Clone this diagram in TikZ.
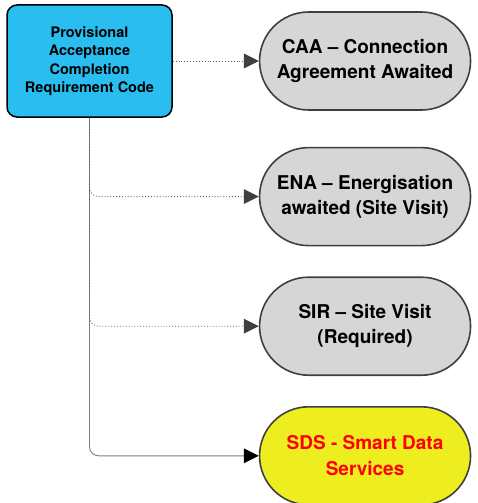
\documentclass[tikz,border=0pt]{standalone}
\usepackage{fontspec}
\setmainfont{Liberation Sans}
\newfontfamily\labelfont{TeX Gyre Heros}[BoldFont={* Bold}, Ligatures=TeX]
\usetikzlibrary{shapes.misc, positioning}
\usetikzlibrary{arrows.meta}
\definecolor{codeblue}{HTML}{29BDF0}
\definecolor{waitgray}{HTML}{D6D6D6}
\definecolor{edgegray}{HTML}{3F3F3F}
\definecolor{sdsyellow}{HTML}{EDED1F}
\tikzstyle{codebox} = [rectangle, rounded corners=10pt, minimum width=165pt, minimum height=112pt, text centered, draw=black, line width=1.5pt, fill=codeblue, align=center, font=\labelfont\bfseries\fontsize{14.5}{18.5}\selectfont]
\tikzstyle{waitbox} = [rounded rectangle, minimum width=215pt, minimum height=98pt, inner xsep=2pt, text centered, draw=edgegray, line width=1.6pt, fill=waitgray, align=center, font=\labelfont\bfseries\fontsize{19}{25.5}\selectfont]
\tikzstyle{arrow} = [draw=gray!75!black, dotted, line width=0.9pt, rounded corners=9pt, -{Triangle[length=15pt, width=15pt, fill=edgegray, color=edgegray, line width=0pt]}]

\begin{document}
\begin{tikzpicture}
    \useasboundingbox (0pt,0pt) rectangle (477pt,-503pt);
    \node (code) [codebox] at (89.5pt,-61pt) {Provisional\\Acceptance\\Completion\\Requirement Code};
    \node (caa) [waitbox, right=86pt of code] {CAA – Connection\\Agreement Awaited};
    \node (ena) [waitbox, below=36pt of caa] {ENA – Energisation\\awaited (Site Visit)};
    \node (sir) [waitbox, below=30pt of ena] {SIR – Site Visit\\(Required)};
    \node (sds) [waitbox, fill=sdsyellow, text=red, below=30pt of sir] {SDS - Smart Data\\Services};
    \draw[arrow, solid, draw=gray, -{Triangle[length=15pt, width=15pt, fill=black, color=black, line width=0pt]}] (code.south) |- (sds.west);
    \draw[arrow] (code.south) |- (sir.west);
    \draw[arrow] (code.south) |- (ena.west);
    \draw[arrow] (code.east) -- (caa.west);
\end{tikzpicture}
\end{document}
